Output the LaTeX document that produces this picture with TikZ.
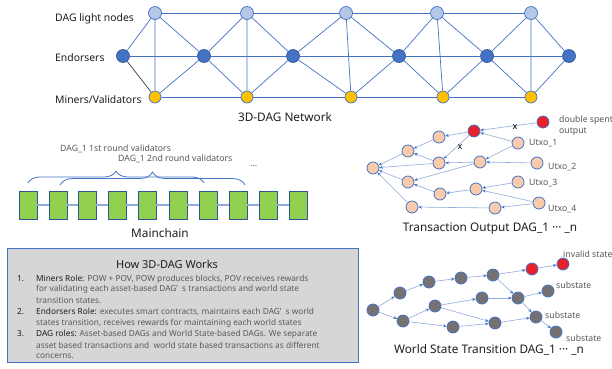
\documentclass[tikz,border=0pt]{standalone}
\usepackage{fontspec}
\setmainfont{Noto Sans}
\usetikzlibrary{arrows.meta,decorations.pathreplacing}
\definecolor{nblue}{RGB}{68,114,196}
\definecolor{lblue}{RGB}{180,199,231}
\definecolor{eblue}{RGB}{143,170,220}
\definecolor{gold}{RGB}{255,192,0}
\definecolor{peach}{RGB}{248,203,173}
\definecolor{rred}{RGB}{232,32,42}
\definecolor{sgray}{RGB}{118,113,113}
\definecolor{lgreen}{RGB}{146,208,80}
\definecolor{dblue}{RGB}{47,85,151}
\definecolor{boxgray}{RGB}{214,214,214}
\definecolor{tgray}{RGB}{89,89,89}
\definecolor{dtext}{RGB}{30,30,30}
\begin{document}
\begin{tikzpicture}[x=1pt,y=-1pt,
  lnode/.style={circle,draw=nblue,fill=lblue,line width=0.7pt,minimum size=13pt,inner sep=0},
  enode/.style={circle,draw=nblue!80!black,fill=nblue,line width=0.7pt,minimum size=13pt,inner sep=0},
  mnode/.style={circle,draw=nblue,fill=gold,line width=0.7pt,minimum size=12pt,inner sep=0},
  netedge/.style={draw=nblue,line width=0.7pt},
  tnode/.style={circle,draw=nblue,fill=peach,line width=0.8pt,minimum size=12pt,inner sep=0},
  rnode/.style={circle,draw=nblue,fill=rred,line width=0.8pt,minimum size=12pt,inner sep=0},
  snode/.style={circle,draw=nblue,fill=sgray,line width=0.8pt,minimum size=12pt,inner sep=0},
  blk/.style={rectangle,draw=dblue,fill=lgreen,line width=0.8pt,minimum width=18pt,minimum height=28pt,inner sep=0},
  arr/.style={draw=eblue,line width=0.6pt,-{Stealth[length=3.5pt,width=3pt,color=nblue]}},
  netlbl/.style={anchor=west,inner sep=0,text=dtext,font=\fontsize{10.4}{12}\selectfont},
  smlbl/.style={anchor=west,inner sep=0,text=tgray,font=\fontsize{8.7}{10}\selectfont},
  title/.style={inner sep=0,text=dtext,font=\fontsize{11.8}{13}\selectfont},
  boxtxt/.style={anchor=west,inner sep=0,text=tgray,font=\fontsize{8.3}{10}\selectfont},
  boxnum/.style={anchor=west,inner sep=0,text=dtext,font=\fontsize{8.3}{10}\selectfont\bfseries},
  xmark/.style={inner sep=0,text=black,font=\fontsize{9}{10}\selectfont\bfseries}
]
\useasboundingbox (0,0) rectangle (612,368);
\fill[white] (0,0) rectangle (612,368);

% ---------------- 3D-DAG network ----------------
\node[lnode] (L1) at (155,13) {};
\node[lnode] (L2) at (247,13) {};
\node[lnode] (L3) at (346,13) {};
\node[lnode] (L4) at (437,13) {};
\node[lnode] (L5) at (531,13) {};
\node[enode] (E0) at (123,56) {};
\node[enode] (E1) at (204,56) {};
\node[enode] (E2) at (293,56) {};
\node[enode] (E3) at (399,56) {};
\node[enode] (E4) at (487,56) {};
\node[enode] (E5) at (569,56) {};
\node[mnode] (M1) at (155,97) {};
\node[mnode] (M2) at (247,97) {};
\node[mnode] (M3) at (351,97) {};
\node[mnode] (M4) at (443,97) {};
\node[mnode] (M5) at (531,97) {};

\draw[netedge] (L1)--(L2) (L2)--(L3) (L3)--(L4) (L4)--(L5);
\draw[netedge] (E0)--(E1) (E1)--(E2) (E2)--(E3) (E3)--(E4) (E4)--(E5);
\draw[netedge] (M1)--(M2) (M2)--(M3) (M3)--(M4) (M4)--(M5);
\draw[netedge] (L1)--(M1) (L2)--(M2) (L3)--(M3) (L4)--(M4) (L5)--(M5);
\draw[netedge] (L1)--(E0) (L1)--(E1) (L2)--(E1) (L2)--(E2) (L3)--(E2) (L3)--(E3)
  (L4)--(E3) (L4)--(E4) (L5)--(E4) (L5)--(E5);
\draw[netedge] (M1)--(E1) (M2)--(E1) (M2)--(E2) (M3)--(E2) (M3)--(E3)
  (M4)--(E3) (M4)--(E4) (M5)--(E4) (M5)--(E5);
\draw[draw=black!75,line width=0.7pt] (E0)--(M1);

\node[netlbl] (lbl1) at (55,19) {DAG light nodes};
\node[netlbl] (lbl2) at (55,58) {Endorsers};
\node[netlbl] (lbl3) at (55,100) {Miners/Validators};
\node[title] (net) at (285,117) {3D-DAG Network};

% ---------------- Mainchain ----------------
\foreach \i/\x in {1/28,2/58,3/87,4/117,5/147,6/178,7/208,8/238,9/268,10/298}
  \node[blk] (B\i) at (\x,205) {};
\foreach \a/\b in {1/2,2/3,3/4,4/5,5/6,6/7,7/8,8/9,9/10}
  \draw[draw=eblue,line width=2.2pt] (B\a)--(B\b);
\coordinate (br1a) at (28,183);
\coordinate (br1b) at (204,183);
\coordinate (br2a) at (60,185);
\coordinate (br2b) at (245,185);
\draw[draw=nblue,line width=0.8pt,decorate,decoration={brace,amplitude=12pt}] (br1a)--(br1b);
\draw[draw=nblue,line width=0.8pt,decorate,decoration={brace,amplitude=13pt}] (br2a)--(br2b);
\node[smlbl] (v1) at (60,149) {DAG\_1 1st round validators};
\node[smlbl] (v2) at (118,159) {DAG\_1 2nd round validators};
\node[smlbl] (dots) at (250,166) {...};
\node[title] (mc) at (160,233) {Mainchain};

% ---------------- Transaction output DAG ----------------
\node[tnode] (T0) at (373,168) {};
\node[tnode] (T1) at (408,151) {};
\node[tnode] (T2) at (439,137) {};
\node[tnode] (T3) at (439,163) {};
\node[rnode] (R1) at (474,131) {};
\node[rnode] (R2) at (543,122) {};
\node[tnode] (U1) at (518,143) {};
\node[tnode] (U2) at (537,163) {};
\node[tnode] (T4) at (480,162) {};
\node[tnode] (T5) at (408,182) {};
\node[tnode] (T6) at (440,194) {};
\node[tnode] (T7) at (476,189) {};
\node[tnode] (U3) at (518,182) {};
\node[tnode] (U4) at (539,203) {};
\node[tnode] (T8) at (412,207) {};
\node[tnode] (T9) at (495,208) {};
\draw[arr] (T1)--(T0);
\draw[arr] (T2)--(T1);
\draw[arr] (T3)--(T1);
\draw[arr] (T3)--(T0);
\draw[arr] (R1)--(T2);
\draw[arr] (R1)--(T3);
\draw[arr] (T4)--(T3);
\draw[arr] (T5)--(T0);
\draw[arr] (T8)--(T0);
\draw[arr] (T6)--(T5);
\draw[arr] (T7)--(T6);
\draw[arr] (T4)--(T5);
\draw[arr] (T9)--(T8);
\draw[arr] (U1)--(R1);
\draw[arr] (R2)--(R1);
\draw[arr] (U1)--(T4);
\draw[arr] (U2)--(T4);
\draw[arr] (U3)--(T7);
\draw[arr] (U4)--(T7);
\draw[arr] (U4)--(T9);
\node[xmark] (x1) at (460,147) {x};
\node[xmark] (x2) at (515,127) {x};
\node[smlbl] (ds1) at (559,120) {double spent};
\node[smlbl] (ds2) at (559,132) {output};
\node[smlbl] (u1l) at (529,143) {Utxo\_1};
\node[smlbl] (u2l) at (548,167) {Utxo\_2};
\node[smlbl] (u3l) at (529,183) {Utxo\_3};
\node[smlbl] (u4l) at (548,209) {Utxo\_4};
\node[title] (tx) at (490,229) {Transaction Output DAG\_1 ··· \_n};

% ---------------- World state transition DAG ----------------
\node[snode] (S0) at (373,310) {};
\node[snode] (S1) at (400,293) {};
\node[snode] (S2) at (403,321) {};
\node[snode] (S3) at (429,282) {};
\node[snode] (S4) at (435,306) {};
\node[snode] (S5) at (461,278) {};
\node[snode] (S6) at (453,327) {};
\node[snode] (S7) at (482,298) {};
\node[snode] (S8) at (493,275) {};
\node[snode] (S9) at (495,323) {};
\node[rnode] (X1) at (532,269) {};
\node[rnode] (X2) at (563,264) {};
\node[snode] (S10) at (518,298) {};
\node[snode] (S11) at (548,291) {};
\node[snode] (S12) at (536,317) {};
\node[snode] (S13) at (556,332) {};
\draw[arr] (S0)--(S1);
\draw[arr] (S0)--(S2);
\draw[arr] (S1)--(S3);
\draw[arr] (S3)--(S5);
\draw[arr] (S5)--(S8);
\draw[arr] (S8)--(X1);
\draw[arr] (X1)--(X2);
\draw[arr] (S8)--(S10);
\draw[arr] (S2)--(S4);
\draw[arr] (S2)--(S6);
\draw[arr] (S4)--(S7);
\draw[arr] (S4)--(S9);
\draw[arr] (S6)--(S9);
\draw[arr] (S7)--(S10);
\draw[arr] (S10)--(S11);
\draw[arr] (S10)--(S12);
\draw[arr] (S9)--(S12);
\draw[arr] (S12)--(S13);
\node[smlbl] (inv) at (563,254) {invalid state};
\node[smlbl] (sub1) at (556,285) {substate};
\node[smlbl] (sub2) at (545,315) {substate};
\node[smlbl] (sub3) at (566,338) {substate};
\node[title] (ws) at (489,350) {World State Transition DAG\_1 ··· \_n};

% ---------------- How 3D-DAG works box ----------------
\node[draw=nblue,fill=boxgray,line width=0.8pt,minimum width=351pt,minimum height=114pt,inner sep=0,anchor=north west] (box) at (7,248) {};
\node[inner sep=0,text=dtext,font=\fontsize{11}{13}\selectfont\bfseries] (bt) at (167,264) {How 3D-DAG Works};
\node[boxnum] (n1) at (17,279) {1.};
\node[boxtxt] (t1a) at (36,279) {\textcolor{dtext}{\bfseries Miners Role:} POW + POV, POW produces blocks, POV receives rewards};
\node[boxtxt] (t1b) at (36,289) {for validating each asset-based DAG’\ \ s transactions and world state};
\node[boxtxt] (t1c) at (36,300) {transition states.};
\node[boxnum] (n2) at (17,312) {2.};
\node[boxtxt] (t2a) at (36,312) {\textcolor{dtext}{\bfseries Endorsers Role:} executes smart contracts, maintains each DAG’\ \ s world};
\node[boxtxt] (t2b) at (36,323) {states transition, receives rewards for maintaining each world states};
\node[boxnum] (n3) at (17,334) {3.};
\node[boxtxt] (t3a) at (36,334) {\textcolor{dtext}{\bfseries DAG roles:} Asset-based DAGs and World State-based DAGs. We separate};
\node[boxtxt] (t3b) at (36,345) {asset based transactions and \ world state based transactions as different};
\node[boxtxt] (t3c) at (36,356) {concerns.};
\end{tikzpicture}
\end{document}
